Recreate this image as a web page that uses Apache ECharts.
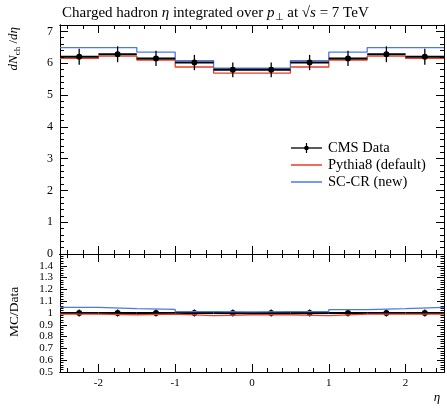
<!DOCTYPE html>
<html>
<head>
<meta charset="utf-8">
<script src="https://cdn.jsdelivr.net/npm/echarts@6/dist/echarts.min.js"></script>
<style>html,body{margin:0;padding:0;background:#fff}#c{width:447px;height:408px}</style>
</head>
<body>
<div id="c"></div>
<script>
// ---- data ----
const binEdges = [-2.5,-2,-1.5,-1,-0.5,0,0.5,1,1.5,2,2.5];
const cmsVals   = [6.20,6.28,6.15,6.02,5.79,5.79,6.02,6.15,6.28,6.20];
const cmsErr    = [0.25,0.25,0.24,0.24,0.23,0.23,0.24,0.24,0.25,0.25];
const pythiaVals= [6.15,6.22,6.10,5.88,5.69,5.69,5.88,6.10,6.22,6.15];
const sccrVals  = [6.49,6.49,6.35,6.08,5.84,5.84,6.08,6.35,6.49,6.49];
const cmsRatioErr = [0.03,0.03,0.03,0.03,0.03,0.03,0.03,0.03,0.03,0.03];
const pythiaRatio = [0.990,0.985,0.990,0.978,0.985,0.985,0.978,0.990,0.990,0.990];
const sccrRatio   = [1.047,1.037,1.030,1.012,1.010,1.012,1.012,1.029,1.037,1.048];
const xTickLabels = [-2,-1,0,1,2];
const yTopTicks = [0,1,2,3,4,5,6,7];
const yRatioTicks = [0.5,0.6,0.7,0.8,0.9,1.0,1.1,1.2,1.3,1.4];
const legendNames = ['CMS Data','Pythia8 (default)','SC-CR (new)'];

const SERIF = 'Liberation Serif';
const RED = '#ee3b24', BLUE = '#4a78f0';

function range(a,b,s){const o=[];for(let v=a;v<=b+1e-9;v+=s){o.push(Math.round(v*1000)/1000);}return o;}
function stepData(vals){return binEdges.map((e,i)=>[e, vals[Math.min(i, vals.length-1)]]);}
function pointData(vals, errs){return vals.map((v,i)=>[binEdges[i], binEdges[i+1], v, errs[i]]);}
const xMinor = range(-2.4,2.4,0.2);
const yTopMinor = range(0,7.2,0.2);
const yRatioMinor = range(0.5,1.5,0.02);
const yRatioMajor = range(0.5,1.5,0.1);

function xAx(grid, pos, ticks, len, labels){
  return {gridIndex:grid, type:'value', min:-2.5, max:2.5, position:pos,
    axisLine:{show:true, onZero:false, lineStyle:{color:'#000', width:1}},
    axisTick:{show:true, inside:true, length:len, customValues:ticks, lineStyle:{color:'#000', width:1}},
    axisLabel:{show:!!labels, customValues:labels||[], margin:6, color:'#000', fontFamily:SERIF, fontSize:11,
      formatter:v=>String(v)},
    splitLine:{show:false}};
}
function yAx(grid, pos, min, max, ticks, len, labels, fmt, fs){
  return {gridIndex:grid, type:'value', min:min, max:max, position:pos,
    axisLine:{show:true, onZero:false, lineStyle:{color:'#000', width:1}},
    axisTick:{show:true, inside:true, length:len, customValues:ticks, lineStyle:{color:'#000', width:1}},
    axisLabel:{show:!!labels, customValues:labels||[], margin:7, color:'#000', fontFamily:SERIF, fontSize:fs||12,
      formatter:fmt||(v=>String(v))},
    splitLine:{show:false}};
}

function renderPoints(params, api){
  const lo=api.value(0), hi=api.value(1), v=api.value(2), e=api.value(3);
  const mid=(lo+hi)/2;
  const a=api.coord([lo,v]), b=api.coord([hi,v]), c=api.coord([mid,v]);
  const t=api.coord([mid,v+e]), d=api.coord([mid,v-e]);
  return {type:'group', children:[
    {type:'line', shape:{x1:a[0],y1:a[1],x2:b[0],y2:b[1]}, style:{stroke:'#000', lineWidth:2}},
    {type:'line', shape:{x1:c[0],y1:t[1],x2:c[0],y2:d[1]}, style:{stroke:'#000', lineWidth:1.3}},
    {type:'circle', shape:{cx:c[0],cy:c[1],r:3}, style:{fill:'#000'}}
  ]};
}

// legend drawn as graphic
const legX = 291, legY = [148, 165, 182], legColors = ['#000', RED, BLUE];
const legendGraphics = [];
legendNames.forEach((name,i)=>{
  legendGraphics.push({type:'line', shape:{x1:legX, y1:legY[i], x2:legX+31, y2:legY[i]},
    style:{stroke:legColors[i], lineWidth:i===0?1.3:1.5}});
  if(i===0){
    legendGraphics.push({type:'line', shape:{x1:legX+15.5, y1:legY[i]-5, x2:legX+15.5, y2:legY[i]+5},
      style:{stroke:'#000', lineWidth:1.2}});
    legendGraphics.push({type:'circle', shape:{cx:legX+15.5, cy:legY[i], r:2.3}, style:{fill:'#000'}});
  }
  legendGraphics.push({type:'text', x:legX+37, y:legY[i],
    style:{text:name, textAlign:'left', textVerticalAlign:'middle', font:'14.5px "Liberation Serif"', fill:'#000'}});
});

const chart = echarts.init(document.getElementById('c'), null, {renderer:'canvas'});
const option = {
  animation:false,
  backgroundColor:'#fff',
  title:{
    left:57, top:0,
    text:'{n|Charged hadron }{i|η}{n| integrated over }{i|p}{s|⊥}{n| at √}{i|s}{n| = 7 TeV}',
    textStyle:{fontWeight:'normal', rich:{
      n:{fontFamily:SERIF, fontSize:15, fontWeight:'normal', color:'#000', lineHeight:17},
      i:{fontFamily:SERIF, fontSize:15, fontWeight:'normal', fontStyle:'italic', color:'#000', lineHeight:17},
      s:{fontFamily:SERIF, fontSize:10, fontWeight:'normal', color:'#000', lineHeight:10, verticalAlign:'bottom'}
    }}
  },
  grid:[
    {left:60, right:3, top:25, height:229},
    {left:60, right:3, top:254, height:118}
  ],
  xAxis:[
    xAx(0,'bottom',xTickLabels,8),
    xAx(0,'bottom',xMinor,4),
    xAx(0,'top',xTickLabels,8),
    xAx(0,'top',xMinor,4),
    xAx(1,'bottom',xTickLabels,8,xTickLabels),
    xAx(1,'bottom',xMinor,4),
    xAx(1,'top',xTickLabels,8),
    xAx(1,'top',xMinor,4)
  ],
  yAxis:[
    yAx(0,'left',0,7.2,yTopTicks,8,yTopTicks),
    yAx(0,'left',0,7.2,yTopMinor,4),
    yAx(0,'right',0,7.2,yTopTicks,8),
    yAx(0,'right',0,7.2,yTopMinor,4),
    yAx(1,'left',0.5,1.5,yRatioMajor,7,yRatioTicks,v=>(Math.abs(v-1)<1e-6?'1':v.toFixed(1)),11),
    yAx(1,'left',0.5,1.5,yRatioMinor,3.5),
    yAx(1,'right',0.5,1.5,yRatioMajor,7),
    yAx(1,'right',0.5,1.5,yRatioMinor,3.5)
  ],
  series:[
    {name:'Pythia8 (default)', type:'line', step:'end', xAxisIndex:0, yAxisIndex:0, symbol:'none',
      data:stepData(pythiaVals), lineStyle:{color:RED, width:1.3}, itemStyle:{color:RED}},
    {name:'SC-CR (new)', type:'line', step:'end', xAxisIndex:0, yAxisIndex:0, symbol:'none',
      data:stepData(sccrVals), lineStyle:{color:BLUE, width:1.3}, itemStyle:{color:BLUE}},
    {name:'CMS Data', type:'custom', xAxisIndex:0, yAxisIndex:0, renderItem:renderPoints,
      data:pointData(cmsVals,cmsErr), encode:{x:[0,1], y:[2]}, z:5},
    {name:'CMS Data ratio', type:'custom', xAxisIndex:4, yAxisIndex:4, renderItem:renderPoints,
      data:pointData(cmsVals.map(()=>1), cmsRatioErr), encode:{x:[0,1], y:[2]}, z:3},
    {name:'Pythia8 (default) ratio', type:'line', step:'end', xAxisIndex:4, yAxisIndex:4, symbol:'none',
      data:stepData(pythiaRatio), lineStyle:{color:RED, width:1.3}, itemStyle:{color:RED}, z:4},
    {name:'SC-CR (new) ratio', type:'line', step:'end', xAxisIndex:4, yAxisIndex:4, symbol:'none',
      data:stepData(sccrRatio), lineStyle:{color:BLUE, width:1.3}, itemStyle:{color:BLUE}, z:4}
  ],
  graphic:[
    {type:'text', x:14, y:27, rotation:Math.PI/2,
      style:{text:'{i|dN}{s|ch}{n| /}{i|dη}', textAlign:'right', textVerticalAlign:'middle',
        rich:{
          n:{fontFamily:SERIF, fontSize:13, fill:'#000', lineHeight:16},
          i:{fontFamily:SERIF, fontSize:13, fontStyle:'italic', fill:'#000', lineHeight:16},
          s:{fontFamily:SERIF, fontSize:9, fill:'#000', lineHeight:9, verticalAlign:'bottom'}
        }}},
    {type:'text', x:14, y:312, rotation:Math.PI/2,
      style:{text:'MC/Data', textAlign:'center', textVerticalAlign:'middle',
        font:'13.5px "Liberation Serif"', fill:'#000'}},
    {type:'text', x:437, y:398,
      style:{text:'η', textAlign:'center', textVerticalAlign:'middle',
        font:'italic 13px "Liberation Serif"', fill:'#000'}}
  ].concat(legendGraphics)
};
chart.setOption(option);
</script>
</body>
</html>
